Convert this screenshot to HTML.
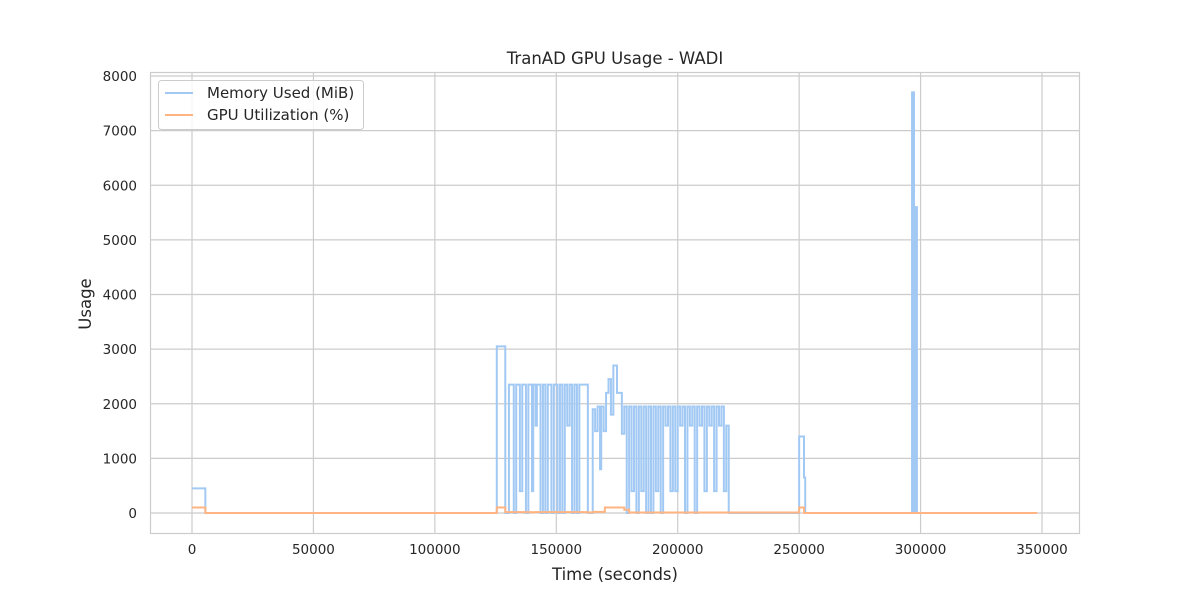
<!DOCTYPE html>
<html><head><meta charset="utf-8"><style>
body{margin:0;background:#fff}
svg text{font-family:"DejaVu Sans","Liberation Sans",sans-serif;fill:#262626}
</style></head><body>
<svg id="chart" width="1200" height="600">
<rect width="1200" height="600" fill="#fff"/>
<g id="grid"></g>
<g id="series"></g>
<rect x="150.5" y="72.5" width="929" height="461" fill="none" stroke="#cccccc" stroke-width="1.2"/>
<g id="ticks"></g>
<text x="615" y="64" text-anchor="middle" font-size="16.5">TranAD GPU Usage - WADI</text>
<text x="615" y="580" text-anchor="middle" font-size="16.5">Time (seconds)</text>
<text x="91" y="304" text-anchor="middle" font-size="16.5" transform="rotate(-90 91 304)">Usage</text>
<g>
<rect x="158.5" y="80.5" width="205" height="49" rx="3" fill="#fff" fill-opacity="0.8" stroke="#cccccc"/>
<g><line x1="165" y1="93" x2="193" y2="93" stroke="#a1c9f4" stroke-width="2"/><text x="207" y="98" font-size="15">Memory Used (MiB)</text></g>
<g><line x1="165" y1="115" x2="193" y2="115" stroke="#ffb482" stroke-width="2"/><text x="207" y="120" font-size="15">GPU Utilization (%)</text></g>
</g>
</svg>
<script>
const xTicks=[0,50000,100000,150000,200000,250000,300000,350000];
const yTicks=[0,1000,2000,3000,4000,5000,6000,7000,8000];
const memT=[0,5500,125500,129000,130500,132500,133500,135000,136000,137500,
138500,140000,140500,141500,142000,143500,144500,145500,146500,148000,
149000,150500,151500,152500,153500,154500,155500,156500,157500,158500,
159500,163000,165000,166000,167000,168000,168500,169500,170500,171500,
172500,173500,175000,177000,178000,179000,180000,181000,182000,183000,
184000,185000,186000,187000,188000,189000,190000,191000,192000,193000,
194000,195000,196000,197000,198000,199000,200000,201000,202000,203000,
204000,205000,206000,207000,208000,209000,210000,211000,212000,213000,
214000,215000,216000,217000,218000,219000,220000,221000,250000,252000,
252500,296500,296800,297000,297300,297500,297700,298000,298200,298500,
348000];
const memV=[450,0,3050,0,2350,0,2350,400,2350,0,
2350,400,2350,1600,2350,0,2350,0,2350,0,
2350,0,2350,0,2350,1600,2350,0,2350,0,
2350,0,1900,1500,1950,800,1950,1500,2200,2450,
1800,2700,2200,1450,1950,0,1950,400,1950,0,
1950,400,1950,0,1950,0,1950,400,1950,0,
1950,1600,1950,400,1950,400,1950,1600,1950,0,
1950,1600,1950,0,1950,1600,1950,400,1950,1600,
1950,400,1950,1600,1950,400,1600,0,1400,650,
0,7700,0,7700,5600,0,5600,0,5600,0,
0];
const gpuT=[0,5500,125500,127500,129000,140000,141000,163000,165000,170000,178000,180000,250000,252000,348000];
const gpuV=[100,0,100,100,15,10,15,10,20,100,60,10,100,0,0];
const X=t=>192+t*850/350000, Y=v=>513-v*437/8000;
const ns="http://www.w3.org/2000/svg";
const grid=document.getElementById('grid'),ticks=document.getElementById('ticks'),series=document.getElementById('series');
function mk(tag,attrs,parent){const e=document.createElementNS(ns,tag);for(const k in attrs)e.setAttribute(k,attrs[k]);parent.appendChild(e);return e;}
xTicks.forEach(t=>{const l=mk('line',{x1:X(t),x2:X(t),y1:72,y2:534,stroke:'#cccccc','stroke-width':1.2},grid);


const tx=mk('text',{x:X(t),y:554,'text-anchor':'middle','font-size':13.5},ticks);tx.textContent=t;

});
yTicks.forEach(v=>{const l=mk('line',{x1:150,x2:1080,y1:Y(v),y2:Y(v),stroke:'#cccccc','stroke-width':1.2},grid);


const tx=mk('text',{x:137,y:Y(v)+5,'text-anchor':'end','font-size':13.5},ticks);tx.textContent=v;

});
function step(T,V){const n=Math.min(T.length,V.length);let d='M'+X(T[0])+' '+Y(V[0]);for(let i=1;i<n;i++){d+=' H'+X(T[i])+' V'+Y(V[i]);}return d;}
const m=mk('path',{d:step(memT,memV),fill:'none',stroke:'#a1c9f4','stroke-width':2},series);


const g=mk('path',{d:step(gpuT,gpuV),fill:'none',stroke:'#ffb482','stroke-width':2},series);


</script>
</body></html>
